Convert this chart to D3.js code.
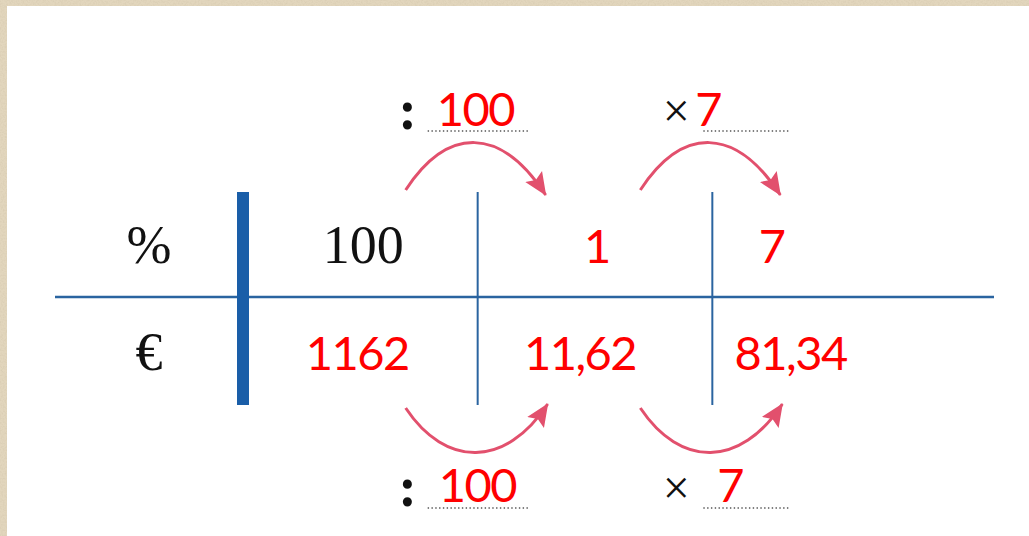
<!DOCTYPE html>
<html>
<head>
<meta charset="utf-8">
<script src="https://cdn.jsdelivr.net/npm/d3@7"></script>
<style>
  html, body { margin: 0; padding: 0; background: #ddd0b5; }
  svg { display: block; }
</style>
</head>
<body>
<div id="chart"></div>
<script>
// table content
const rowLabels = ['%', '€'];
const percentRow = ['100', '1', '7'];
const euroRow = ['1162', '11,62', '81,34'];
// which cells are printed (black) and which are filled in (red)
const percentFilled = [false, true, true];
const euroFilled = [true, true, true];
// operations between columns
const opSymbols = [':', '×'];
const topOpValues = ['100', '7'];
const bottomOpValues = ['100', '7'];

const width = 1029;
const height = 536;

const svg = d3.select('#chart')
  .append('svg')
  .attr('width', width)
  .attr('height', height);

// paper texture
const defs = svg.append('defs');
const grain = defs.append('filter').attr('id', 'grain').attr('x', 0).attr('y', 0).attr('width', '100%').attr('height', '100%');
grain.append('feTurbulence').attr('type', 'fractalNoise').attr('baseFrequency', 0.6).attr('numOctaves', 2).attr('seed', 3);
grain.append('feColorMatrix').attr('type', 'matrix')
  .attr('values', '0 0 0 0 0.55  0 0 0 0 0.47  0 0 0 0 0.33  0 0 0 0.9 -0.35');

svg.append('rect').attr('width', width).attr('height', height).attr('fill', '#e2d6bd');
svg.append('rect').attr('width', width).attr('height', height).attr('filter', 'url(#grain)').attr('opacity', 0.6);
svg.append('rect').attr('x', 7).attr('y', 6).attr('width', width - 7).attr('height', height - 6).attr('fill', '#ffffff');

const pink = '#e2506d';
const red = '#ff0000';
const blue = '#2a64a0';

defs.append('marker')
  .attr('id', 'head')
  .attr('markerUnits', 'userSpaceOnUse')
  .attr('viewBox', '0 -11 24 22')
  .attr('refX', 22)
  .attr('refY', 0)
  .attr('markerWidth', 24)
  .attr('markerHeight', 22)
  .attr('orient', 'auto')
  .append('path')
  .attr('d', 'M0,-10L23,0L0,10L4,0Z')
  .attr('fill', pink);

// layout scales
const x = d3.scaleBand().domain(d3.range(percentRow.length)).range([243, 947]);
const y = d3.scaleBand().domain(rowLabels).range([192, 405]);
const lineY = 297;
// hand-written cells sit a little off the column centres
const shiftPercent = [3, 2, -58];
const shiftEuro = [-3, -15, -39];
const redFont = 'Lato, sans-serif';

// grid
svg.append('line')
  .attr('x1', 55).attr('x2', 994)
  .attr('y1', lineY).attr('y2', lineY)
  .attr('stroke', blue).attr('stroke-width', 2.5);

svg.append('rect')
  .attr('x', x(0) - 6).attr('y', y.range()[0])
  .attr('width', 12).attr('height', y.range()[1] - y.range()[0])
  .attr('fill', '#1a5ea8');

svg.selectAll('.divider')
  .data(d3.range(1, percentRow.length))
  .join('line')
  .attr('class', 'divider')
  .attr('x1', d => x(d)).attr('x2', d => x(d))
  .attr('y1', y.range()[0]).attr('y2', y.range()[1])
  .attr('stroke', blue).attr('stroke-width', 2);

// row labels
svg.selectAll('.rowlabel')
  .data(rowLabels)
  .join('text')
  .attr('class', 'rowlabel')
  .attr('x', 149)
  .attr('y', d => y(d) + y.bandwidth() / 2 + 18)
  .attr('text-anchor', 'middle')
  .attr('font-family', 'Liberation Serif, serif')
  .attr('font-size', 54)
  .attr('fill', '#111')
  .text(d => d);

function drawRow(values, filled, shift, label) {
  svg.selectAll('.cell-' + label)
    .data(values)
    .join('text')
    .attr('class', 'cell-' + label)
    .attr('x', (d, i) => x(i) + x.bandwidth() / 2 + shift[i])
    .attr('y', y(rowLabels[label]) + y.bandwidth() / 2 + 18)
    .attr('text-anchor', 'middle')
    .attr('font-family', (d, i) => filled[i] ? redFont : 'Liberation Serif, serif')
    .attr('font-size', (d, i) => filled[i] ? 47 : 54)
    .attr('letter-spacing', (d, i) => filled[i] ? -1.5 : 0)
    .attr('fill', (d, i) => filled[i] ? red : '#111')
    .text(d => d);
}
drawRow(percentRow, percentFilled, shiftPercent, 0);
drawRow(euroRow, euroFilled, shiftEuro, 1);

// arrows between columns
svg.selectAll('.arrow-top')
  .data(opSymbols)
  .join('path')
  .attr('class', 'arrow-top')
  .attr('d', (d, i) => {
    const cx = x(i + 1);
    return `M${cx - 72},190 C${cx - 30},126 ${cx + 23},126 ${cx + 68},195`;
  });
svg.selectAll('.arrow-bottom')
  .data(opSymbols)
  .join('path')
  .attr('class', 'arrow-bottom')
  .attr('d', (d, i) => {
    const cx = x(i + 1);
    return `M${cx - 72},408 C${cx - 32},468 ${cx + 28},468 ${cx + 70},404`;
  });
svg.selectAll('.arrow-top, .arrow-bottom')
  .attr('fill', 'none')
  .attr('stroke', pink)
  .attr('stroke-width', 3)
  .attr('marker-end', 'url(#head)');

// operation labels
function drawOps(values, baseY, key) {
  const g = svg.selectAll('.op-' + key)
    .data(values)
    .join('g')
    .attr('class', 'op-' + key)
    .attr('transform', (d, i) => `translate(${x(i + 1)},${baseY})`);
  g.append('text')
    .attr('x', (d, i) => i === 0 ? -70 : -36)
    .attr('y', (d, i) => i === 0 ? 0 : -2)
    .attr('text-anchor', 'middle')
    .attr('font-family', 'Liberation Serif, serif')
    .attr('font-weight', (d, i) => i === 0 ? 'bold' : 'normal')
    .attr('font-size', (d, i) => i === 0 ? 56 : 48)
    .attr('fill', '#111')
    .text((d, i) => opSymbols[i]);
  g.append('line')
    .attr('x1', (d, i) => i === 0 ? -50 : -9)
    .attr('x2', (d, i) => i === 0 ? 52 : 77)
    .attr('y1', 2).attr('y2', 2)
    .attr('stroke', '#555')
    .attr('stroke-width', 1.6)
    .attr('stroke-dasharray', '1.4,2.4');
  g.append('text')
    .attr('class', 'opvalue')
    .attr('font-family', redFont)
    .attr('font-size', 47)
    .attr('letter-spacing', -1.5)
    .attr('fill', red)
    .text(d => d);
}
drawOps(topOpValues, 129, 'top');
drawOps(bottomOpValues, 506, 'bottom');

svg.selectAll('.op-top .opvalue')
  .attr('x', (d, i) => i === 0 ? -41 : -17)
  .attr('y', -3);
svg.selectAll('.op-bottom .opvalue')
  .attr('x', (d, i) => i === 0 ? -39 : 5)
  .attr('y', -4);
</script>
</body>
</html>
